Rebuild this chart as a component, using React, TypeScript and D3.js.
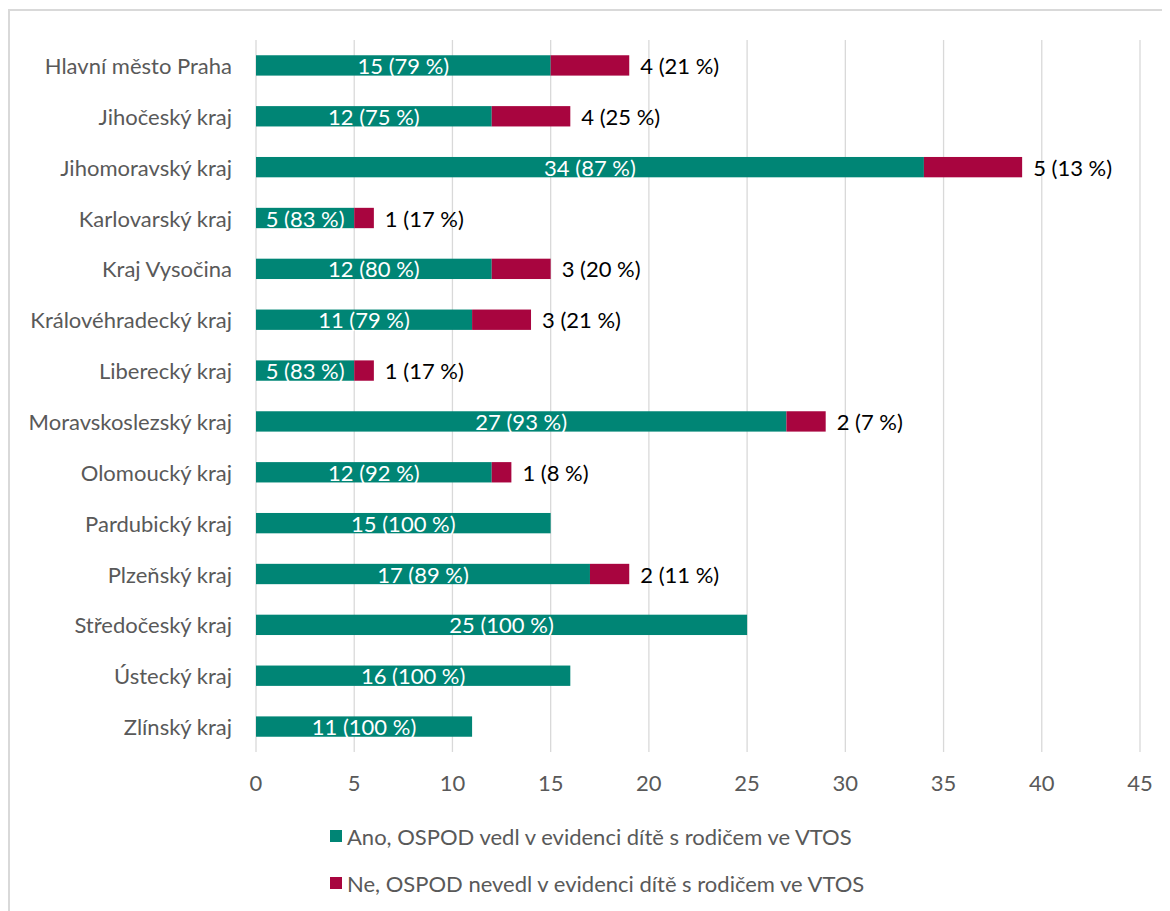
import React from "react";
import * as d3 from "d3";

// kraje (regions), top to bottom
const regions = [
  "Hlavní město Praha",
  "Jihočeský kraj",
  "Jihomoravský kraj",
  "Karlovarský kraj",
  "Kraj Vysočina",
  "Královéhradecký kraj",
  "Liberecký kraj",
  "Moravskoslezský kraj",
  "Olomoucký kraj",
  "Pardubický kraj",
  "Plzeňský kraj",
  "Středočeský kraj",
  "Ústecký kraj",
  "Zlínský kraj",
];

const ano = [15, 12, 34, 5, 12, 11, 5, 27, 12, 15, 17, 25, 16, 11];
const ne = [4, 4, 5, 1, 3, 3, 1, 2, 1, 0, 2, 0, 0, 0];
const anoPct = [79, 75, 87, 83, 80, 79, 83, 93, 92, 100, 89, 100, 100, 100];
const nePct = [21, 25, 13, 17, 20, 21, 17, 7, 8, 0, 11, 0, 0, 0];

const xTicks = [0, 5, 10, 15, 20, 25, 30, 35, 40, 45];

const seriesNames = [
  "Ano, OSPOD vedl v evidenci dítě s rodičem ve VTOS",
  "Ne, OSPOD nevedl v evidenci dítě s rodičem ve VTOS",
];
const colors = ["#008575", "#a8053f"];

const width = 1162;
const height = 903;
const font = "Lato, 'Open Sans', sans-serif";
const fs = 22;

export default function App() {
  const x = d3.scaleLinear().domain([0, 45]).range([248, 1132]);
  const y = d3.scaleBand().domain(regions).range([32, 744]).paddingInner(0.6).paddingOuter(0.3);
  const bh = y.bandwidth();

  return (
    <svg width={width} height={height} style={{ display: "block" }} fontFamily={font}>
      <rect x={1} y={2} width={width + 20} height={height + 20} fill="#fff" stroke="#d9d9d9" strokeWidth={2} />
      <g>
        {xTicks.map((t) => (
          <line key={t} x1={x(t)} x2={x(t)} y1={32} y2={744} stroke="#d9d9d9" strokeWidth={1.3} />
        ))}
      </g>
      <g fontSize={fs} fill="#595959">
        {xTicks.map((t) => (
          <text key={t} x={x(t)} y={783} textAnchor="middle">{t}</text>
        ))}
      </g>
      <g fontSize={fs} fill="#595959">
        {regions.map((r) => (
          <text key={r} x={224} y={y(r)! + bh / 2} textAnchor="end" dominantBaseline="central">{r}</text>
        ))}
      </g>
      <g>
        {regions.map((r, i) => (
          <g key={r}>
            <rect x={x(0)} y={y(r)} width={x(ano[i]) - x(0)} height={bh} fill={colors[0]} />
            {ne[i] > 0 && (
              <rect x={x(ano[i])} y={y(r)} width={x(ano[i] + ne[i]) - x(ano[i])} height={bh} fill={colors[1]} />
            )}
            <text x={(x(0) + x(ano[i])) / 2} y={y(r)! + bh / 2} textAnchor="middle" dominantBaseline="central" fontSize={fs} fill="#fff">
              {`${ano[i]} (${anoPct[i]} %)`}
            </text>
            {ne[i] > 0 && (
              <text x={x(ano[i] + ne[i]) + 11} y={y(r)! + bh / 2} dominantBaseline="central" fontSize={fs} fill="#000">
                {`${ne[i]} (${nePct[i]} %)`}
              </text>
            )}
          </g>
        ))}
      </g>
      <g fontSize={fs} fill="#595959">
        {seriesNames.map((s, i) => (
          <g key={s} transform={`translate(322,${828 + i * 47})`}>
            <rect x={0} y={-6} width={12} height={12} fill={colors[i]} />
            <text x={17} y={0} dominantBaseline="central">{s}</text>
          </g>
        ))}
      </g>
    </svg>
  );
}
